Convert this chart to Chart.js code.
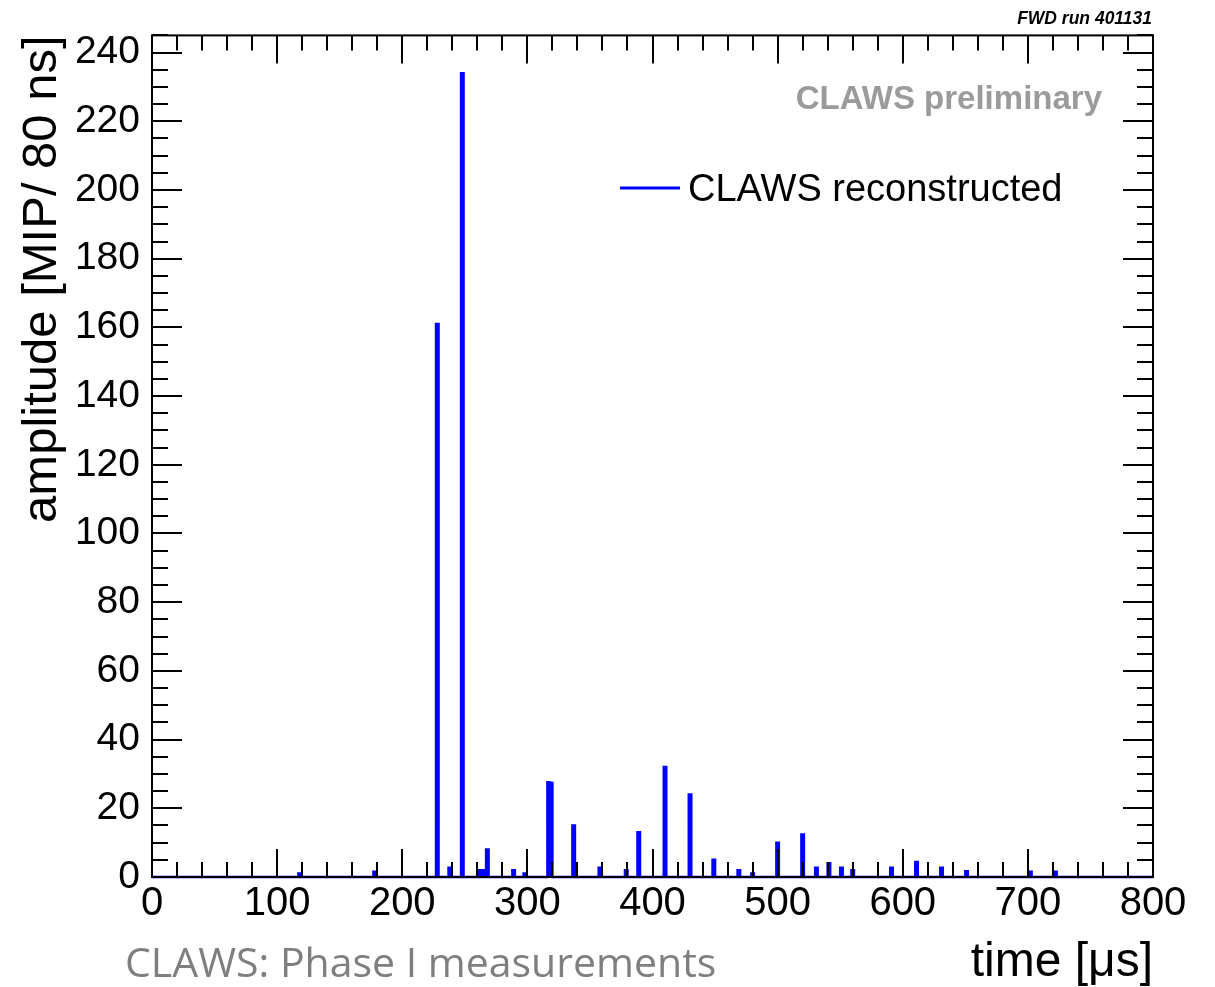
<!DOCTYPE html>
<html>
<head>
<meta charset="utf-8">
<script src="https://cdn.jsdelivr.net/npm/chart.js@4/dist/chart.umd.min.js"></script>
<style>
  body { margin: 0; background: #ffffff; }
  canvas { display: block; }
</style>
</head>
<body>
<canvas id="plot" width="1215" height="987"></canvas>
<script>
//spike positions in time [us] and their amplitudes [MIP / 80 ns]
const spikeTimes = [117, 177, 227, 237, 247, 261, 264, 267, 288, 297, 316, 318, 336, 357, 378, 388, 409, 429, 448, 468, 479, 499, 519, 530, 540, 550, 559, 590, 610, 630, 650, 701, 721];
const spikeAmps = [1, 1.5, 161, 2.7, 234, 2, 2, 8, 2, 1, 27.6, 27.4, 15, 2.7, 2, 13, 32, 24, 5, 2, 1, 10, 12.4, 2.7, 4, 2.7, 2, 2.7, 4.4, 2.7, 1.7, 1.5, 1.5];
const binWidth = 2;

//axis ranges and tick spacing
const xRange = [0, 800];
const yRange = [0, 245];
const xMajor = 100, xMinor = 20;
const yMajor = 20, yMinor = 5;

const seriesLabel = "CLAWS reconstructed";
const blue = "#0000ff";

//histogram outline: baseline with one box per filled bin
function histPoints() {
  const pts = [{ x: xRange[0], y: 0 }];
  spikeTimes.forEach((t, i) => {
    pts.push({ x: t, y: 0 }, { x: t, y: spikeAmps[i] }, { x: t + binWidth, y: spikeAmps[i] }, { x: t + binWidth, y: 0 });
  });
  pts.push({ x: xRange[1], y: 0 });
  return pts;
}

//ROOT style frame with inward ticks on all four sides, plus the extra texts
const rootFrame = {
  id: "rootFrame",
  afterDatasetsDraw(chart) {
    const { ctx, chartArea: a, scales: { x, y } } = chart;
    ctx.save();
    ctx.strokeStyle = "#000";
    ctx.lineWidth = 2;
    ctx.strokeRect(a.left, a.top, a.right - a.left, a.bottom - a.top);
    ctx.beginPath();
    for (let v = xRange[0]; v <= xRange[1]; v += xMinor) {
      const px = Math.round(x.getPixelForValue(v));
      const len = v % xMajor === 0 ? 28 : 15;
      ctx.moveTo(px, a.bottom); ctx.lineTo(px, a.bottom - len);
      ctx.moveTo(px, a.top); ctx.lineTo(px, a.top + len);
    }
    for (let v = yRange[0]; v <= yRange[1]; v += yMinor) {
      const py = Math.round(y.getPixelForValue(v));
      const len = v % yMajor === 0 ? 30 : 16;
      ctx.moveTo(a.left, py); ctx.lineTo(a.left + len, py);
      ctx.moveTo(a.right, py); ctx.lineTo(a.right - len, py);
    }
    ctx.stroke();

    //legend entry
    ctx.strokeStyle = blue;
    ctx.lineWidth = 3;
    ctx.beginPath();
    ctx.moveTo(620, 188); ctx.lineTo(680, 188);
    ctx.stroke();
    ctx.fillStyle = "#000";
    ctx.font = "38px 'Liberation Sans', Arial, sans-serif";
    ctx.textAlign = "left";
    ctx.textBaseline = "alphabetic";
    ctx.fillText(seriesLabel, 688, 201);

    //labels
    ctx.fillStyle = "#9b9b9b";
    ctx.font = "bold 33px 'Liberation Sans', Arial, sans-serif";
    ctx.textAlign = "right";
    ctx.fillText("CLAWS preliminary", 1102, 109);
    ctx.fillStyle = "#000";
    ctx.font = "italic bold 17.5px 'Liberation Sans', Arial, sans-serif";
    ctx.fillText("FWD run 401131", 1152, 24);
    ctx.fillStyle = "#7f7f7f";
    ctx.font = "41px 'Open Sans', 'Noto Sans', sans-serif";
    ctx.textAlign = "left";
    ctx.fillText("CLAWS: Phase I measurements", 125, 977);
    ctx.restore();
  }
};

new Chart(document.getElementById("plot"), {
  type: "scatter",
  plugins: [rootFrame],
  data: {
    datasets: [{
      label: seriesLabel,
      data: histPoints(),
      showLine: true,
      borderColor: blue,
      borderWidth: 2.5,
      pointRadius: 0,
      clip: false
    }]
  },
  options: {
    responsive: false,
    animation: false,
    layout: { padding: { left: 0, right: 62, top: 30, bottom: 0 } },
    plugins: { legend: { display: false }, tooltip: { enabled: false } },
    scales: {
      x: {
        type: "linear",
        min: xRange[0],
        max: xRange[1],
        afterFit: (s) => { s.height = 110; },
        grid: { display: false, drawTicks: false },
        border: { display: false },
        ticks: {
          stepSize: xMajor,
          padding: 3,
          color: "#000",
          maxRotation: 0,
          font: { family: "'Liberation Sans', Arial, sans-serif", size: 40 }
        },
        title: {
          display: true,
          text: "time [μs]",
          align: "end",
          color: "#000",
          padding: { top: 0, bottom: -5 },
          font: { family: "'Liberation Sans', Arial, sans-serif", size: 48 }
        }
      },
      y: {
        min: yRange[0],
        max: yRange[1],
        afterFit: (s) => { s.width = 152; },
        afterBuildTicks: (s) => { s.ticks = s.ticks.filter(t => t.value % yMajor === 0); },
        grid: { display: false, drawTicks: false },
        border: { display: false },
        ticks: {
          stepSize: yMajor,
          includeBounds: false,
          autoSkip: false,
          padding: 12,
          color: "#000",
          font: { family: "'Liberation Sans', Arial, sans-serif", size: 39 }
        },
        title: {
          display: true,
          text: "amplitude [MIP/ 80 ns]",
          align: "end",
          color: "#000",
          padding: { top: 13, bottom: 0 },
          font: { family: "'Liberation Sans', Arial, sans-serif", size: 49 }
        }
      }
    }
  }
});
</script>
</body>
</html>
